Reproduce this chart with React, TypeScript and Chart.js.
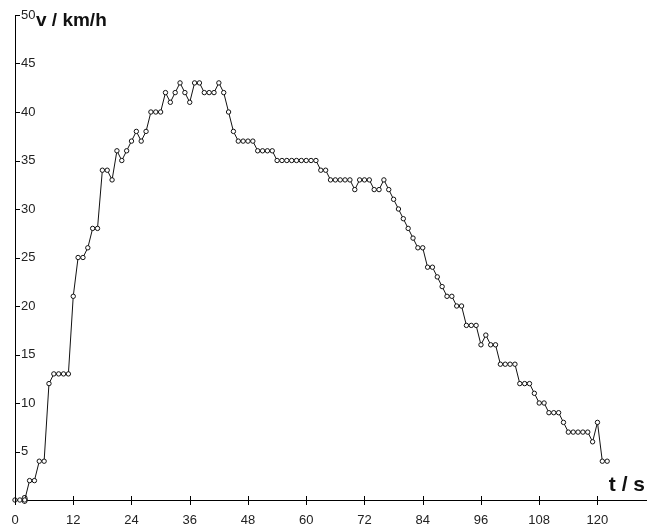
import React, { useEffect, useRef } from "react";
import { Chart, registerables } from "chart.js";

Chart.register(...registerables);

// time in seconds
const TIMES = [
  0, 1, 2, 3, 4, 5, 6, 7, 8, 9,
  10, 11, 12, 13, 14, 15, 16, 17, 18, 19,
  20, 21, 22, 23, 24, 25, 26, 27, 28, 29,
  30, 31, 32, 33, 34, 35, 36, 37, 38, 39,
  40, 41, 42, 43, 44, 45, 46, 47, 48, 49,
  50, 51, 52, 53, 54, 55, 56, 57, 58, 59,
  60, 61, 62, 63, 64, 65, 66, 67, 68, 69,
  70, 71, 72, 73, 74, 75, 76, 77, 78, 79,
  80, 81, 82, 83, 84, 85, 86, 87, 88, 89,
  90, 91, 92, 93, 94, 95, 96, 97, 98, 99,
  100, 101, 102, 103, 104, 105, 106, 107, 108, 109,
  110, 111, 112, 113, 114, 115, 116, 117, 118, 119,
  120, 121, 122,
];

// speed in km/h
const SPEEDS = [
  0, 0, 0, 2, 2, 4, 4, 12, 13, 13,
  13, 13, 21, 25, 25, 26, 28, 28, 34, 34,
  33, 36, 35, 36, 37, 38, 37, 38, 40, 40,
  40, 42, 41, 42, 43, 42, 41, 43, 43, 42,
  42, 42, 43, 42, 40, 38, 37, 37, 37, 37,
  36, 36, 36, 36, 35, 35, 35, 35, 35, 35,
  35, 35, 35, 34, 34, 33, 33, 33, 33, 33,
  32, 33, 33, 33, 32, 32, 33, 32, 31, 30,
  29, 28, 27, 26, 26, 24, 24, 23, 22, 21,
  21, 20, 20, 18, 18, 18, 16, 17, 16, 16,
  14, 14, 14, 14, 12, 12, 12, 11, 10, 10,
  9, 9, 9, 8, 7, 7, 7, 7, 7, 6,
  8, 4, 4,
];

const X_TICKS = [0, 12, 24, 36, 48, 60, 72, 84, 96, 108, 120];
const Y_TICKS = [0, 5, 10, 15, 20, 25, 30, 35, 40, 45, 50];
const X_TITLE = "t / s";
const Y_TITLE = "v / km/h";

const TICK_FONT = "'Liberation Sans Narrow', 'Liberation Sans', Arial, sans-serif";
const TITLE_FONT = "'Liberation Sans', Arial, sans-serif";

const axisDecor = {
  id: "axisDecor",
  afterDraw(chart: any) {
    const { ctx, chartArea, scales } = chart;
    const xs = scales.x;
    const ys = scales.y;
    ctx.save();
    ctx.strokeStyle = "#000";
    ctx.lineWidth = 1;
    ctx.beginPath();
    xs.ticks.forEach((t: any) => {
      const px = Math.round(xs.getPixelForValue(t.value)) + 0.5;
      ctx.moveTo(px, chartArea.bottom - 4);
      ctx.lineTo(px, chartArea.bottom + 5);
    });
    ys.ticks.forEach((t: any) => {
      if (t.value === 0) return;
      const py = Math.round(ys.getPixelForValue(t.value)) + 0.5;
      ctx.moveTo(chartArea.left, py);
      ctx.lineTo(chartArea.left + 5, py);
    });
    ctx.stroke();

    ctx.fillStyle = "#111";
    ctx.textBaseline = "alphabetic";
    ctx.font = `bold 19px ${TITLE_FONT}`;
    ctx.textAlign = "left";
    ctx.fillText(Y_TITLE, chartArea.left + 21, chartArea.top + 11);
    ctx.font = `bold 21px ${TITLE_FONT}`;
    ctx.textAlign = "right";
    ctx.fillText(X_TITLE, chartArea.right - 1, chartArea.bottom - 9);
    ctx.restore();
  },
};

export default function App() {
  const ref = useRef<HTMLCanvasElement>(null);

  useEffect(() => {
    const points = TIMES.map((t, i) => ({ x: t, y: SPEEDS[i] }));
    const chart = new Chart(ref.current as HTMLCanvasElement, {
      type: "line",
      data: {
        datasets: [
          {
            data: points,
            borderColor: "#111",
            borderWidth: 1,
            pointRadius: 2.2,
            pointBackgroundColor: "#fff",
            pointBorderColor: "#111",
            pointBorderWidth: 1,
            tension: 0,
            fill: false,
            clip: false as any,
          },
        ],
      },
      options: {
        responsive: false,
        animation: false,
        layout: { padding: { left: 3, right: 2, top: 15, bottom: 0.4 } },
        plugins: {
          legend: { display: false },
          tooltip: { enabled: false },
          title: { display: false },
        },
        scales: {
          x: {
            type: "linear",
            position: "bottom",
            min: 0,
            max: 130,
            afterBuildTicks: (s: any) => {
              s.ticks = X_TICKS.map((v) => ({ value: v }));
            },
            ticks: {
              autoSkip: false,
              maxRotation: 0,
              padding: 0,
              includeBounds: false,
              color: "#222",
              font: { family: TICK_FONT, size: 13 },
            },
            grid: {
              display: true,
              drawOnChartArea: false,
              drawTicks: true,
              tickLength: 13,
              tickColor: "rgba(0,0,0,0)",
            },
            border: { display: true, color: "#000", width: 1 },
          },
          y: {
            type: "linear",
            position: "left",
            min: 0,
            max: 50,
            afterBuildTicks: (s: any) => {
              s.ticks = Y_TICKS.map((v) => ({ value: v }));
            },
            ticks: {
              mirror: true,
              padding: 6,
              autoSkip: false,
              color: "#222",
              font: { family: TICK_FONT, size: 13 },
            },
            grid: {
              display: true,
              drawOnChartArea: false,
              drawTicks: false,
            },
            border: { display: true, color: "#000", width: 1 },
          },
        },
      },
      plugins: [axisDecor],
    });
    return () => chart.destroy();
  }, []);

  return (
    <div
      style={{
        position: "fixed",
        left: 0,
        top: 0,
        width: 651,
        height: 529,
        background: "#fff",
      }}
    >
      <canvas
        ref={ref}
        width={651}
        height={529}
        style={{ display: "block", width: 651, height: 529 }}
      />
    </div>
  );
}
